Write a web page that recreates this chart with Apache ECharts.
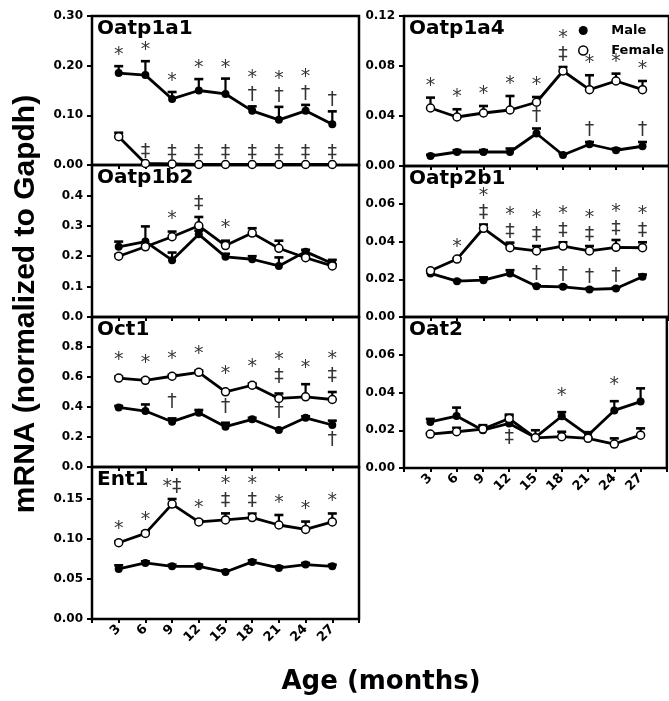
<!DOCTYPE html>
<html><head><meta charset="utf-8">
<script src="https://cdn.jsdelivr.net/npm/echarts@6/dist/echarts.min.js"></script>
<style>html,body{margin:0;padding:0;background:#fff}#c{width:669px;height:701px}</style>
</head><body><div id="c"></div>
<script>
// ---------- data ----------
const ages = [3, 6, 9, 12, 15, 18, 21, 24, 27];

const oatp1a1Male      = [0.185, 0.181, 0.133, 0.150, 0.143, 0.109, 0.091, 0.109, 0.082];
const oatp1a1MaleErr   = [0.014, 0.028, 0.014, 0.023, 0.031, 0.009, 0.026, 0.012, 0.026];
const oatp1a1Female    = [0.057, 0.003, 0.002, 0.001, 0.001, 0.001, 0.001, 0.001, 0.001];
const oatp1a1FemaleErr = [0.008, 0, 0, 0, 0, 0, 0, 0, 0];
const oatp1a1MaleAnn   = ['*', '*', '*', '*', '*', '*\n†', '*\n†', '*\n†', '†'];
const oatp1a1FemaleAnn = ['', '‡', '‡', '‡', '‡', '‡', '‡', '‡', '‡'];

const oatp1b2Male      = [0.231, 0.248, 0.187, 0.272, 0.198, 0.190, 0.168, 0.215, 0.176];
const oatp1b2MaleErr   = [0.017, 0.050, 0.025, 0.012, 0.010, 0.010, 0.028, 0.006, 0.012];
const oatp1b2Female    = [0.200, 0.231, 0.264, 0.300, 0.235, 0.276, 0.226, 0.195, 0.168];
const oatp1b2FemaleErr = [0.005, 0.005, 0.017, 0.029, 0.016, 0.016, 0.025, 0.005, 0.005];
const oatp1b2FemaleAnn = ['', '', '*', '‡', '*', '', '', '', ''];

const oct1Male         = [0.397, 0.373, 0.302, 0.362, 0.269, 0.318, 0.247, 0.328, 0.280];
const oct1MaleErr      = [0.010, 0.044, 0.022, 0.018, 0.026, 0.010, 0.010, 0.010, 0.029];
const oct1Female       = [0.593, 0.578, 0.605, 0.631, 0.501, 0.545, 0.457, 0.468, 0.450];
const oct1FemaleErr    = [0.010, 0.010, 0.010, 0.012, 0.010, 0.012, 0.033, 0.084, 0.050];
const oct1FemaleAnn    = ['*', '*', '*', '*', '*', '*', '*\n‡', '*', '*\n‡'];
const oct1MaleAnn      = ['', '', '†', '', '†', '', '†', '', ''];
const oct1MaleBelow    = ['', '', '', '', '', '', '', '', '†'];

const ent1Male         = [0.0626, 0.0701, 0.0659, 0.0659, 0.0588, 0.0714, 0.0638, 0.0680, 0.0659];
const ent1MaleErr      = [0.0045, 0.0020, 0.0020, 0.0020, 0.0020, 0.0020, 0.0020, 0.0020, 0.0020];
const ent1Female       = [0.0953, 0.1070, 0.1436, 0.1213, 0.1238, 0.1268, 0.1175, 0.1120, 0.1213];
const ent1FemaleErr    = [0.0020, 0.0020, 0.0064, 0.0020, 0.0082, 0.0050, 0.0125, 0.0098, 0.0106];
const ent1FemaleAnn    = ['*', '*', '*‡', '*', '*\n‡', '*\n‡', '*', '*', '*'];

const oatp1a4Male      = [0.0080, 0.0112, 0.0112, 0.0112, 0.0260, 0.0088, 0.0174, 0.0126, 0.0158];
const oatp1a4MaleErr   = [0.0010, 0.0015, 0.0015, 0.0028, 0.0040, 0.0010, 0.0018, 0.0014, 0.0034];
const oatp1a4Female    = [0.0464, 0.0392, 0.0424, 0.0448, 0.0510, 0.0760, 0.0611, 0.0680, 0.0611];
const oatp1a4FemaleErr = [0.0083, 0.0062, 0.0056, 0.0112, 0.0042, 0.0032, 0.0115, 0.0059, 0.0069];
const oatp1a4FemaleAnn = ['*', '*', '*', '*', '*', '*\n‡', '*', '*', '*'];
const oatp1a4MaleAnn   = ['', '', '', '', '†', '', '†', '', '†'];

const oatp2b1Male      = [0.0231, 0.0190, 0.0195, 0.0231, 0.0163, 0.0160, 0.0146, 0.0151, 0.0213];
const oatp2b1MaleErr   = [0.0005, 0.0005, 0.0015, 0.0017, 0.0005, 0.0005, 0.0005, 0.0005, 0.0012];
const oatp2b1Female    = [0.0245, 0.0307, 0.0470, 0.0367, 0.0350, 0.0376, 0.0350, 0.0369, 0.0367];
const oatp2b1FemaleErr = [0.0005, 0.0005, 0.0020, 0.0027, 0.0026, 0.0020, 0.0026, 0.0039, 0.0029];
const oatp2b1FemaleAnn = ['', '*', '*\n‡', '*\n‡', '*\n‡', '*\n‡', '*\n‡', '*\n‡', '*\n‡'];
const oatp2b1MaleAnn   = ['', '', '', '', '†', '†', '†', '†', ''];

const oat2Male         = [0.0244, 0.0275, 0.0200, 0.0236, 0.0162, 0.0274, 0.0174, 0.0305, 0.0352];
const oat2MaleErr      = [0.0016, 0.0045, 0.0020, 0.0040, 0.0038, 0.0022, 0.0016, 0.0049, 0.0070];
const oat2Female       = [0.0180, 0.0192, 0.0206, 0.0262, 0.0160, 0.0166, 0.0157, 0.0127, 0.0174];
const oat2FemaleErr    = [0.0005, 0.0021, 0.0021, 0.0021, 0.0005, 0.0026, 0.0005, 0.0030, 0.0036];
const oat2MaleAnn      = ['', '', '', '', '', '*', '', '*', ''];
const oat2MaleBelow    = ['', '', '', '‡', '', '', '', '', ''];

// ---------- layout / styles ----------
const COLS = [{left: 92, width: 267}, {left: 404, width: 265}];
const panels = [
  {name: 'Oatp1a1', col: 0, top: 16,  height: 149, yMax: 0.30, yStep: 0.10, dec: 2, showMax: true,  showX: false,
   male: oatp1a1Male, maleErr: oatp1a1MaleErr, female: oatp1a1Female, femaleErr: oatp1a1FemaleErr,
   maleAnn: oatp1a1MaleAnn, femaleAnn: oatp1a1FemaleAnn, gap: 2},
  {name: 'Oatp1b2', col: 0, top: 165, height: 152, yMax: 0.50, yStep: 0.10, dec: 1, showMax: false, showX: false,
   male: oatp1b2Male, maleErr: oatp1b2MaleErr, female: oatp1b2Female, femaleErr: oatp1b2FemaleErr,
   femaleAnn: oatp1b2FemaleAnn, gap: 4},
  {name: 'Oct1', col: 0, top: 317, height: 150, yMax: 1.0, yStep: 0.20, dec: 1, showMax: false, showX: false,
   male: oct1Male, maleErr: oct1MaleErr, female: oct1Female, femaleErr: oct1FemaleErr,
   maleAnn: oct1MaleAnn, femaleAnn: oct1FemaleAnn, maleBelow: oct1MaleBelow, gap: 7},
  {name: 'Ent1', col: 0, top: 467, height: 152, yMax: 0.19, yStep: 0.05, dec: 2, showMax: false, showX: true,
   male: ent1Male, maleErr: ent1MaleErr, female: ent1Female, femaleErr: ent1FemaleErr,
   femaleAnn: ent1FemaleAnn, gap: 3},
  {name: 'Oatp1a4', col: 1, top: 16,  height: 150, yMax: 0.12, yStep: 0.04, dec: 2, showMax: true,  showX: false,
   male: oatp1a4Male, maleErr: oatp1a4MaleErr, female: oatp1a4Female, femaleErr: oatp1a4FemaleErr,
   maleAnn: oatp1a4MaleAnn, femaleAnn: oatp1a4FemaleAnn, gap: 3},
  {name: 'Oatp2b1', col: 1, top: 166, height: 151, yMax: 0.08, yStep: 0.02, dec: 2, showMax: false, showX: false,
   male: oatp2b1Male, maleErr: oatp2b1MaleErr, female: oatp2b1Female, femaleErr: oatp2b1FemaleErr,
   maleAnn: oatp2b1MaleAnn, femaleAnn: oatp2b1FemaleAnn, gap: 2},
  {name: 'Oat2', col: 1, top: 317, height: 151, yMax: 0.08, yStep: 0.02, dec: 2, showMax: false, showX: true,
   male: oat2Male, maleErr: oat2MaleErr, female: oat2Female, femaleErr: oat2FemaleErr,
   maleAnn: oat2MaleAnn, maleBelow: oat2MaleBelow, gap: 7}
];

const FONT = 'DejaVu Sans';
const grid = [], xAxis = [], yAxis = [], series = [], title = [];

function errRender(params, api) {
  const x = api.value(0), y = api.value(1), e = api.value(2);
  if (!(e > 0)) return null;
  const p0 = api.coord([x, y]);
  const p1 = api.coord([x, y + e]);
  return {type: 'group', children: [
    {type: 'line', shape: {x1: p0[0], y1: p0[1], x2: p1[0], y2: p1[1]}, style: {stroke: '#000', lineWidth: 2.2}},
    {type: 'line', shape: {x1: p1[0] - 4.5, y1: p1[1], x2: p1[0] + 4.5, y2: p1[1]}, style: {stroke: '#000', lineWidth: 2.6}}
  ]};
}

function annSeries(i, vals, errs, texts, pos, gap) {
  const data = [];
  texts.forEach((t, k) => {
    if (!t) return;
    const y = pos === 'top' ? vals[k] + (errs[k] || 0) : vals[k];
    data.push({name: t, value: [ages[k], y]});
  });
  return {
    type: 'scatter', xAxisIndex: i, yAxisIndex: i, z: 6, silent: true,
    symbol: 'circle', symbolSize: 1, itemStyle: {color: 'rgba(0,0,0,0)'},
    label: {show: true, position: pos, distance: pos === 'top' ? gap : 6,
      formatter: p => p.name, fontFamily: FONT, fontSize: 19, lineHeight: 17, color: '#000'},
    data
  };
}

panels.forEach((p, i) => {
  const c = COLS[p.col];
  grid.push({left: c.left, top: p.top, width: c.width, height: p.height, show: true,
    borderColor: '#000', borderWidth: 2.5, backgroundColor: 'rgba(0,0,0,0)', containLabel: false});
  title.push({text: p.name, left: c.left + 5, top: p.top + 3, padding: 0,
    textStyle: {fontFamily: FONT, fontWeight: 'bold', fontSize: 20, color: '#000'}});
  xAxis.push({gridIndex: i, type: 'value', min: 0, max: 30, interval: 3,
    axisLine: {show: false}, splitLine: {show: false},
    axisTick: {show: true, length: 4, lineStyle: {color: '#000', width: 2}},
    axisLabel: {show: p.showX, rotate: 45, margin: 8, fontFamily: FONT, fontWeight: 'bold', fontSize: 13, color: '#000',
      formatter: v => ages.indexOf(v) >= 0 ? String(v) : ''}});
  yAxis.push({gridIndex: i, type: 'value', min: 0, max: p.yMax, interval: p.yStep,
    axisLine: {show: false}, splitLine: {show: false},
    axisTick: {show: true, length: 5, lineStyle: {color: '#000', width: 2}},
    axisLabel: {showMaxLabel: p.showMax, margin: 9, fontFamily: FONT, fontWeight: 'bold', fontSize: 12, color: '#000',
      formatter: v => {
        const r = v / p.yStep;
        return Math.abs(r - Math.round(r)) < 1e-6 ? v.toFixed(p.dec) : '';
      }}});

  series.push({type: 'custom', xAxisIndex: i, yAxisIndex: i, z: 2, silent: true, renderItem: errRender,
    encode: {x: 0, y: 1}, data: ages.map((a, k) => [a, p.male[k], p.maleErr[k]])});
  series.push({type: 'custom', xAxisIndex: i, yAxisIndex: i, z: 2, silent: true, renderItem: errRender,
    encode: {x: 0, y: 1}, data: ages.map((a, k) => [a, p.female[k], p.femaleErr[k]])});
  series.push({name: 'Male', type: 'line', xAxisIndex: i, yAxisIndex: i, z: 3, silent: true,
    symbol: 'circle', symbolSize: 8, showAllSymbol: true,
    lineStyle: {color: '#000', width: 2.8}, itemStyle: {color: '#000'},
    data: ages.map((a, k) => [a, p.male[k]])});
  series.push({name: 'Female', type: 'line', xAxisIndex: i, yAxisIndex: i, z: 4, silent: true,
    symbol: 'circle', symbolSize: 8, showAllSymbol: true,
    lineStyle: {color: '#000', width: 2.8}, itemStyle: {color: '#fff', borderColor: '#000', borderWidth: 1.5},
    data: ages.map((a, k) => [a, p.female[k]])});
  if (p.maleAnn) series.push(annSeries(i, p.male, p.maleErr, p.maleAnn, 'top', p.gap));
  if (p.femaleAnn) series.push(annSeries(i, p.female, p.femaleErr, p.femaleAnn, 'top', p.gap));
  if (p.maleBelow) series.push(annSeries(i, p.male, p.maleErr, p.maleBelow, 'bottom', p.gap));
});

const chart = echarts.init(document.getElementById('c'), null, {renderer: 'canvas'});
chart.setOption({
  animation: false,
  backgroundColor: '#fff',
  title,
  grid, xAxis, yAxis, series,
  legend: {
    data: [
      {name: 'Male', itemStyle: {color: '#000', borderWidth: 0}},
      {name: 'Female', itemStyle: {color: '#fff', borderColor: '#000', borderWidth: 1.5}}
    ],
    orient: 'vertical', left: 578, top: 24, padding: 0,
    icon: 'circle', itemWidth: 46, itemHeight: 9, itemGap: 7, selectedMode: false,
    textStyle: {fontFamily: FONT, fontWeight: 'bold', fontSize: 13, color: '#000', padding: [0, 0, 0, 0]}
  },
  graphic: [
    {type: 'text', x: 26, y: 304, rotation: Math.PI / 2, silent: true,
     style: {text: 'mRNA (normalized to Gapdh)', fontFamily: 'Liberation Sans', fontWeight: 'bold', fontSize: 30,
       fill: '#000', align: 'center', verticalAlign: 'middle'}},
    {type: 'text', x: 381, y: 682, silent: true,
     style: {text: 'Age (months)', fontFamily: FONT, fontWeight: 'bold', fontSize: 26,
       fill: '#000', align: 'center', verticalAlign: 'middle'}}
  ]
});
</script>
</body></html>
